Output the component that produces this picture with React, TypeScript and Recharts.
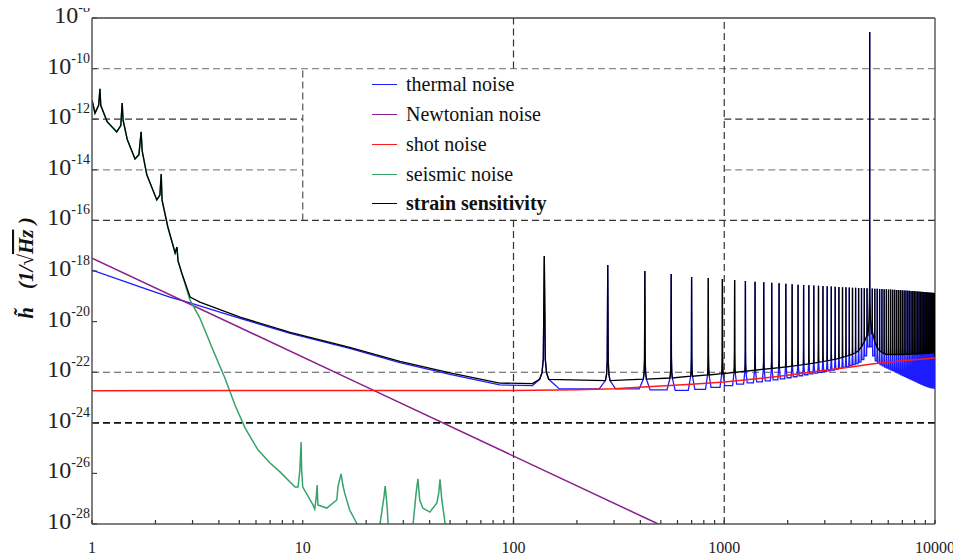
import React from 'react';
import { LineChart, Line, XAxis, YAxis, ReferenceLine, Legend } from 'recharts';

type P = [number, number]; // [frequency in Hz, log10 of strain]

// ---------- data ----------
const seismicPts: P[] = [
  [1, -11.24], [1.033, -11.76], [1.075, -11.45], [1.091, -10.8], [1.1, -11.45], [1.18, -12.1], [1.31, -12.5],
  [1.37, -12.25], [1.39, -11.36], [1.405, -12.05], [1.47, -12.8], [1.6, -13.57], [1.67, -13.4], [1.71, -12.5],
  [1.73, -13.25], [1.82, -14.2], [2.03, -15.19], [2.1, -15.0], [2.13, -14.17], [2.15, -15.2], [2.29, -16.26],
  [2.48, -17.29], [2.53, -17.05], [2.56, -17.6], [2.67, -18.1], [2.92, -19.15], [3.25, -19.86], [3.75, -21.12],
  [4.27, -22.23], [4.77, -23.3], [5.32, -24.2], [6.13, -25.07], [6.99, -25.59], [7.8, -25.94], [9.19, -26.54],
  [9.5, -26.54], [9.69, -25.87], [9.82, -24.76], [9.88, -25.87], [10.0, -26.54], [11.2, -27.25], [11.4, -27.41],
  [11.6, -26.92], [11.7, -26.46], [11.8, -27.25], [13.0, -27.37], [14.5, -27.05], [14.7, -26.52], [15.2, -26.02],
  [15.5, -26.46], [15.8, -26.77], [16.7, -27.45], [18.0, -27.96], [19.0, -28.4], [22.4, -28.4], [23.3, -27.96],
  [23.9, -27.32], [24.3, -26.92], [24.6, -26.5], [24.9, -26.92], [25.2, -27.45], [25.4, -27.96], [26.4, -28.4],
  [33.0, -28.4], [33.4, -27.96], [34.0, -27.33], [34.5, -26.77], [35.2, -26.22], [35.9, -27.05], [37.1, -27.37],
  [40.1, -27.53], [43.3, -27.17], [44.2, -26.77], [44.8, -26.23], [45.7, -27.05], [46.9, -27.71], [47.3, -27.96],
  [48.5, -28.4],
];
const thermalLow: P[] = [
  [1, -17.96], [1.69, -18.63], [2.34, -19.03], [2.92, -19.26], [5.04, -19.87], [8.72, -20.47], [16.7, -21.06],
  [28.9, -21.62], [50, -22.09], [86, -22.5], [123, -22.53],
];
const strainLow: P[] = [
  [2.92, -19.03], [3.25, -19.23], [5.04, -19.82], [8.72, -20.43], [16.7, -21.02], [28.9, -21.57], [50, -22.03],
  [86, -22.43], [123, -22.45],
];
const newtonianPts: P[] = [[1, -17.49], [20, -22.58], [486, -28.0], [700, -28.62]];
const shotPts: P[] = [
  [1, -22.73], [100, -22.72], [200, -22.69], [300, -22.65], [500, -22.55], [700, -22.48], [1000, -22.39],
  [1500, -22.24], [2000, -22.12], [3000, -21.92], [4000, -21.79], [5000, -21.68], [7000, -21.55], [10000, -21.44],
];
// violin-mode resonances
const spikeF = [
  140, 280, 420, 560, 700, 840, 980, 1120, 1260, 1400, 1540, 1680, 1820, 1960, 2100, 2240, 2380, 2520, 2660, 2800,
  2940, 3080, 3220, 3360, 3500, 3640, 3780, 3920, 4060, 4200, 4340, 4480, 4620, 4760, 4900, 5040, 5180, 5320, 5460,
  5600, 5740, 5880, 6020, 6160, 6300, 6440, 6580, 6720, 6860, 7000, 7140, 7280, 7420, 7560, 7700, 7840, 7980, 8120,
  8260, 8400, 8540, 8680, 8820, 8960, 9100, 9240, 9380, 9520, 9660, 9800, 9940,
];
const spikePeak = [
  -17.41, -17.76, -18.0, -18.12, -18.24, -18.28, -18.32, -18.36, -18.4, -18.42, -18.44, -18.46, -18.48, -18.5, -18.52,
  -18.54, -18.55, -18.56, -18.57, -18.58, -18.59, -18.6, -18.61, -18.62, -18.63, -18.64, -18.64, -18.65, -18.66,
  -18.66, -18.67, -18.67, -18.68, -18.68, -8.55, -18.69, -18.7, -18.7, -18.71, -18.71, -18.72, -18.72, -18.73, -18.73,
  -18.74, -18.74, -18.75, -18.75, -18.76, -18.76, -18.77, -18.77, -18.78, -18.78, -18.79, -18.79, -18.8, -18.8,
  -18.81, -18.81, -18.82, -18.82, -18.83, -18.83, -18.84, -18.84, -18.85, -18.85, -18.86, -18.86, -18.87,
];
const strainBase = [
  -22.48, -22.53, -22.47, -22.43, -22.36, -22.31, -22.26, -22.21, -22.16, -22.12, -22.08, -22.05, -22.02, -21.99,
  -21.96, -21.93, -21.9, -21.87, -21.84, -21.81, -21.78, -21.75, -21.72, -21.69, -21.65, -21.61, -21.57, -21.53,
  -21.49, -21.43, -21.35, -21.2, -21.0, -20.75, -19.0, -20.6, -21.0, -21.24, -21.35, -21.42, -21.47, -21.5, -21.5,
  -21.5, -21.5, -21.5, -21.5, -21.5, -21.5, -21.5, -21.5, -21.49, -21.49, -21.49, -21.49, -21.48, -21.48, -21.48,
  -21.48, -21.47, -21.47, -21.47, -21.46, -21.46, -21.46, -21.45, -21.45, -21.44, -21.44, -21.43, -21.43,
];
const thermalDip = [
  -22.66, -22.66, -22.7, -22.72, -22.68, -22.6, -22.53, -22.47, -22.42, -22.38, -22.34, -22.3, -22.26, -22.22,
  -22.18, -22.14, -22.1, -22.07, -22.04, -22.01, -21.98, -21.95, -21.92, -21.88, -21.85, -21.81, -21.78, -21.74,
  -21.7, -21.66, -21.6, -21.5, -21.35, -21.0, -21.0, -21.35, -21.55, -21.65, -21.7, -21.75, -21.8, -21.84, -21.88,
  -21.92, -21.95, -21.99, -22.03, -22.07, -22.1, -22.13, -22.16, -22.2, -22.23, -22.26, -22.29, -22.32, -22.35,
  -22.38, -22.41, -22.44, -22.47, -22.49, -22.52, -22.54, -22.56, -22.58, -22.6, -22.61, -22.62, -22.63, -22.63,
];
const giantFlare: P[] = [[4810, -20.55], [4864, -19.9], [4888, -19.2], [4912, -19.2], [4940, -19.9], [4995, -20.5]];
// resonance flank shape: offset in Hz, rise in decades above the local floor
const flareDf = [-7, -3.5, -1.5, 1.5, 3.5, 7];
const flareDe = [0.2, 0.45, 1.0, 1.0, 0.45, 0.2];

const xTicks = [
  1, 2, 3, 4, 5, 6, 7, 8, 9, 10, 20, 30, 40, 50, 60, 70, 80, 90, 100, 200, 300, 400, 500, 600, 700, 800, 900,
  1000, 2000, 3000, 4000, 5000, 6000, 7000, 8000, 9000, 10000,
];
const xLabels = [1, 10, 100, 1000, 10000];
const yTicks = [1e-8, 1e-10, 1e-12, 1e-14, 1e-16, 1e-18, 1e-20, 1e-22, 1e-24, 1e-26, 1e-28];

const legendNames = ['thermal noise', 'Newtonian noise', 'shot noise', 'seismic noise', 'strain sensitivity'];

// ---------- building the series tables ----------
const toData = (pts: P[]) =>
  pts.slice().sort((a, b) => a[0] - b[0]).map(([f, e]) => ({ f, h: Math.pow(10, e) }));

const spikePts = (bases: number[]): P[] =>
  spikeF.flatMap((f, i) => {
    const out: P[] = [];
    flareDf.forEach((d, k) => { if (d < 0) out.push([f + d, bases[i] + flareDe[k]]); });
    out.push([f, spikePeak[i]]);
    flareDf.forEach((d, k) => { if (d > 0) out.push([f + d, bases[i] + flareDe[k]]); });
    return out;
  });

const strainData = toData([
  ...seismicPts.filter((p) => p[0] < 2.8),
  ...strainLow,
  ...spikePts(strainBase),
  ...giantFlare,
  [10000, -21.43],
]);
const thermalData = toData([
  ...thermalLow,
  ...spikePts(strainBase),
  ...thermalDip.flatMap((d, i): P[] => {
    const next = i + 1 < spikeF.length ? spikeF[i + 1] - 25 : 10000;
    return [[spikeF[i] + 25, d], [next, d]];
  }),
]);
const seismicData = toData(seismicPts);
const newtonianData = toData(newtonianPts);
const shotData = toData(shotPts);

const COLORS: Record<string, string> = {
  'thermal noise': '#1c1cff',
  'Newtonian noise': '#8b1c8b',
  'shot noise': '#ff1a1a',
  'seismic noise': '#36a36b',
  'strain sensitivity': '#000000',
};

const FONT = '"Liberation Serif", "Times New Roman", serif';

const hGrid = [
  { y: 1e-10, segs: [[1, 10000]], color: '#8a8a8a', w: 1.2 },
  { y: 1e-12, segs: [[1, 10], [1000, 10000]], color: '#333', w: 1.2 },
  { y: 1e-14, segs: [[1, 10], [1000, 10000]], color: '#8a8a8a', w: 1.2 },
  { y: 1e-16, segs: [[1, 10000]], color: '#333', w: 1.2 },
  { y: 1e-22, segs: [[1, 10000]], color: '#555', w: 1.1 },
  { y: 1e-24, segs: [[1, 10000]], color: '#111', w: 1.7 },
];
const vGrid = [
  { x: 10, segs: [[1e-16, 1e-10]], color: '#555' },
  { x: 100, segs: [[1e-28, 1e-16], [1e-10, 1e-8]], color: '#333' },
  { x: 1000, segs: [[1e-28, 1e-8]], color: '#333' },
];

const YTick = (props: any) => {
  const { x, y, payload } = props;
  const e = Math.round(Math.log10(payload.value));
  return (
    <g>
      <line x1={x} y1={y} x2={x + 5} y2={y} stroke="#444" strokeWidth={1.2} />
      <text x={x - 2} y={y + 5} textAnchor="end" fontFamily={FONT} fill="#222">
        <tspan fontSize={24}>10</tspan>
        <tspan fontSize={14} dy={-11}>{String(e)}</tspan>
      </text>
    </g>
  );
};

const XTick = (props: any) => {
  const { x, y, payload } = props;
  const v = payload.value;
  return (
    <g>
      <line x1={x} y1={y} x2={x} y2={y - 4} stroke="#333" strokeWidth={1.2} />
      {xLabels.includes(v) && (
        <text x={x} y={y + 29} textAnchor="middle" fontFamily={FONT} fontSize={16} fill="#222">
          {v}
        </text>
      )}
    </g>
  );
};

const YLabel = (props: any) => {
  const vb = props.viewBox || { x: 32, y: 18, width: 60, height: 506 };
  const cx = vb.x + 1;
  const cy = vb.y + vb.height / 2 - 3;
  return (
    <text
      x={cx}
      y={cy}
      transform={`rotate(-90 ${cx} ${cy})`}
      textAnchor="middle"
      fontFamily={FONT}
      fontWeight="bold"
      fontStyle="italic"
      fontSize={21}
      fill="#111"
    >
      <tspan>h&#x303;</tspan>
      <tspan dx={18}>(1/</tspan>
      <tspan>&#x221A;</tspan>
      <tspan style={{ textDecoration: 'overline' }}>Hz</tspan>
      <tspan> )</tspan>
    </text>
  );
};

const LegendBox = () => (
  <div style={{ fontFamily: FONT, color: '#111' }}>
    {legendNames.map((n) => (
      <div key={n} style={{ display: 'flex', alignItems: 'center', height: 29.75 }}>
        <div style={{ width: 25, height: 0, borderTop: `1.5px solid ${COLORS[n]}`, marginRight: 9 }} />
        <span style={{ fontSize: 20, fontWeight: n === 'strain sensitivity' ? 'bold' : 'normal', whiteSpace: 'nowrap' }}>
          {n}
        </span>
      </div>
    ))}
  </div>
);

export default function App() {
  return (
    <div style={{ margin: '-8px 0 0 -8px', width: 961, height: 559 }}>
      <LineChart width={961} height={559} margin={{ top: 18, right: 26, bottom: 8, left: 32 }}>
        <XAxis
          type="number"
          dataKey="f"
          scale="log"
          domain={[1, 10000]}
          allowDataOverflow
          ticks={xTicks}
          interval={0}
          tickSize={0}
          tickMargin={0}
          tickLine={false}
          tick={<XTick />}
          height={27}
          axisLine={{ stroke: '#555', strokeWidth: 1.5 }}
        />
        <YAxis
          type="number"
          scale="log"
          domain={[1e-28, 1e-8]}
          allowDataOverflow
          ticks={yTicks}
          interval={0}
          tickSize={0}
          tickMargin={0}
          tickLine={false}
          tick={<YTick />}
          width={60}
          axisLine={{ stroke: '#555', strokeWidth: 1.5 }}
          label={{ content: <YLabel /> }}
        />
        {hGrid.flatMap((g) =>
          g.segs.map((s, i) => (
            <ReferenceLine
              key={`h${g.y}-${i}`}
              segment={[{ x: s[0], y: g.y }, { x: s[1], y: g.y }]}
              stroke={g.color}
              strokeWidth={g.w}
              strokeDasharray="7 4"
              ifOverflow="visible"
            />
          ))
        )}
        {vGrid.flatMap((g) =>
          g.segs.map((s, i) => (
            <ReferenceLine
              key={`v${g.x}-${i}`}
              segment={[{ x: g.x, y: s[0] }, { x: g.x, y: s[1] }]}
              stroke={g.color}
              strokeWidth={1.2}
              strokeDasharray="7 4"
              ifOverflow="visible"
            />
          ))
        )}
        <ReferenceLine y={1e-8} stroke="#444" strokeWidth={1.3} ifOverflow="visible" />
        <ReferenceLine x={10000} stroke="#444" strokeWidth={1.3} ifOverflow="visible" />

        <Line data={thermalData} dataKey="h" name="thermal noise" stroke={COLORS['thermal noise']} strokeWidth={1.3} dot={false} isAnimationActive={false} type="linear" />
        <Line data={newtonianData} dataKey="h" name="Newtonian noise" stroke={COLORS['Newtonian noise']} strokeWidth={1.5} dot={false} isAnimationActive={false} type="linear" />
        <Line data={seismicData} dataKey="h" name="seismic noise" stroke={COLORS['seismic noise']} strokeWidth={1.5} dot={false} isAnimationActive={false} type="linear" />
        <Line data={strainData} dataKey="h" name="strain sensitivity" stroke={COLORS['strain sensitivity']} strokeWidth={1.3} dot={false} isAnimationActive={false} type="linear" />
        <Line data={shotData} dataKey="h" name="shot noise" stroke={COLORS['shot noise']} strokeWidth={1.5} dot={false} isAnimationActive={false} type="linear" />

        <Legend
          layout="vertical"
          align="center"
          verticalAlign="middle"
          wrapperStyle={{ position: 'absolute', left: 372, top: 70, width: 300, height: 150 }}
          content={<LegendBox />}
        />
      </LineChart>
    </div>
  );
}
